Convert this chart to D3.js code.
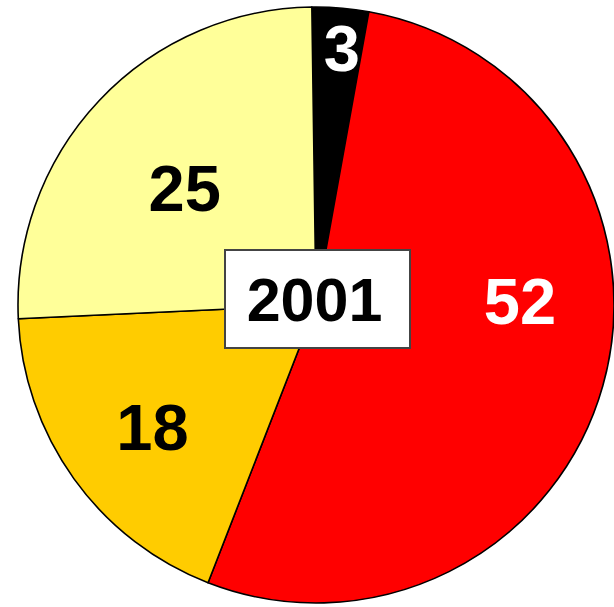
<!DOCTYPE html>
<html>
<head>
<meta charset="utf-8">
<script src="https://cdn.jsdelivr.net/npm/d3@7"></script>
<style>
  body { margin: 0; background: #fff; }
  svg { display: block; }
</style>
</head>
<body>
<svg width="614" height="607"></svg>
<script>
// data
var categories = ["a", "b", "c", "d"];
var values = [3, 52, 18, 25];
var colors = ["#000000", "#ff0000", "#ffcc00", "#ffff99"];
var labelColors = ["#ffffff", "#ffffff", "#000000", "#000000"];
var year = "2001";

// layout
var cx = 316, cy = 305, r = 298;
var startDeg = -0.8;
// label radius / angle nudge per slice (excel style placement)
var labelR = [259, 204, 204, 176];
var labelShift = [1, -17, -1, -1.5];

var svg = d3.select("svg");
var g = svg.append("g").attr("transform", "translate(" + cx + "," + cy + ")");

var pie = d3.pie()
    .sort(null)
    .startAngle(startDeg * Math.PI / 180)
    .endAngle((360 + startDeg) * Math.PI / 180);

var arcs = pie(values);

var arc = d3.arc().innerRadius(0).outerRadius(r);

g.selectAll("path")
    .data(arcs)
    .enter()
    .append("path")
    .attr("d", arc)
    .attr("fill", function(d, i){ return colors[i]; })
    .attr("stroke", "#000")
    .attr("stroke-width", 1.6)
    .attr("stroke-linejoin", "round");

// labels
function labelAngle(d, i){
    return (d.startAngle + d.endAngle) / 2 + labelShift[i] * Math.PI / 180;
}

g.selectAll("text.lbl")
    .data(arcs)
    .enter()
    .append("text")
    .attr("class", "lbl")
    .attr("x", function(d, i){ return Math.sin(labelAngle(d, i)) * labelR[i]; })
    .attr("y", function(d, i){ return -Math.cos(labelAngle(d, i)) * labelR[i]; })
    .attr("dy", "0.36em")
    .attr("text-anchor", "middle")
    .attr("font-family", "Liberation Sans, Arial, sans-serif")
    .attr("font-weight", "bold")
    .attr("font-size", 65)
    .attr("fill", function(d, i){ return labelColors[i]; })
    .text(function(d){ return d.data; });

// year box
var box = svg.append("g").attr("transform", "translate(317.5,299)");
box.append("rect")
    .attr("x", -92.5).attr("y", -49)
    .attr("width", 185).attr("height", 98)
    .attr("fill", "#fff")
    .attr("stroke", "#444")
    .attr("stroke-width", 2);
box.append("text")
    .attr("x", -3).attr("y", 0)
    .attr("dy", "0.36em")
    .attr("text-anchor", "middle")
    .attr("font-family", "Liberation Sans, Arial, sans-serif")
    .attr("font-weight", "bold")
    .attr("font-size", 61)
    .text(year);
</script>
</body>
</html>
